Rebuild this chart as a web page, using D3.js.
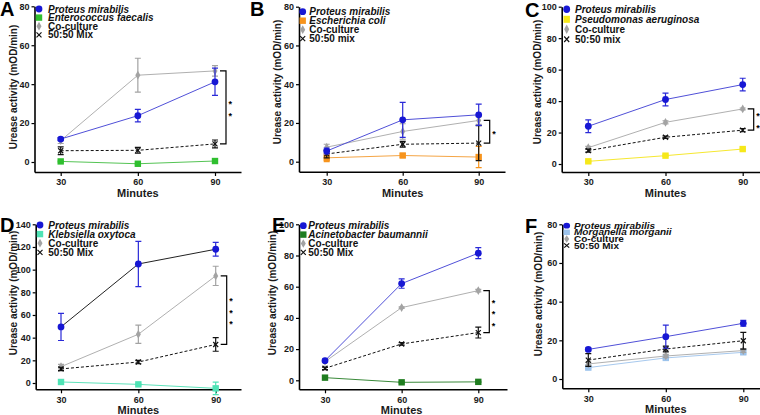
<!DOCTYPE html>
<html><head><meta charset="utf-8">
<script src="https://cdn.jsdelivr.net/npm/d3@7"></script>
<style>
body{margin:0;background:#fff;}
svg{display:block;font-family:"Liberation Sans",Arial,sans-serif;}
</style></head>
<body><svg id="c" width="760" height="415"></svg>
<script>
// ---------- DATA ----------
const minutes = [30, 60, 90];

// Panel A
const aProteus = [11.8, 23.8, 41.2], aProteusErr = [0.8, 3.2, 7];
const aSpecies = [0.3, -0.9, 0.5], aSpeciesErr = [0.2, 0.2, 0.2];
const aCoculture = [11, 44.6, 46.8], aCocultureErr = [1.5, 8.7, 2.7];
const aMix = [5.8, 6, 9.3], aMixErr = [2, 1.5, 2];
// Panel B
const bProteus = [5.5, 21.6, 24.2], bProteusErr = [1.5, 9, 5.5];
const bSpecies = [2, 3.2, 2.4], bSpeciesErr = [2, 0.8, 5.5];
const bCoculture = [7.5, 15.6, 21.3], bCocultureErr = [1.5, 4, 2];
const bMix = [4, 9, 9.6], bMixErr = [2, 1.5, 9];
// Panel C
const cProteus = [24, 41, 50.5], cProteusErr = [4, 4, 4];
const cSpecies = [1.7, 5.3, 9.5], cSpeciesErr = [0.5, 0.5, 0.5];
const cCoculture = [10.4, 26.5, 35], cCocultureErr = [0.8, 1, 0.6];
const cMix = [8.5, 17, 21.5], cMixErr = [1, 0.8, 1];
// Panel D
const dProteus = [49.5, 105, 118], dProteusErr = [12, 20, 6];
const dSpecies = [0.9, -1.2, -4.7], dSpeciesErr = [0.5, 0.5, 5.5];
const dCoculture = [14.4, 43, 94.5], dCocultureErr = [2, 8, 8.5];
const dMix = [12.4, 18.5, 34], dMixErr = [1.5, 1.5, 6];
// Panel E
const eProteus = [12.6, 62, 81.5], eProteusErr = [0.8, 3, 3.5];
const eSpecies = [1.7, -1.3, -1], eSpeciesErr = [0.3, 0.3, 0.3];
const eCoculture = [12, 46.6, 57.5], eCocultureErr = [0.5, 0.5, 0.8];
const eMix = [7.7, 23.3, 30.6], eMixErr = [0.8, 0.8, 3.5];
// Panel F
const fProteus = [15.3, 21.9, 28.8], fProteusErr = [0.8, 6, 1.5];
const fSpecies = [5.9, 10.9, 13.8], fSpeciesErr = [0.5, 0.5, 0.8];
const fCoculture = [7.8, 11.9, 14.7], fCocultureErr = [0.8, 0.8, 1];
const fMix = [9.8, 15.5, 19.8], fMixErr = [3.3, 1.5, 4.3];

const letters = ["A", "B", "C", "D", "E", "F"];
const speciesNames = ["Enterococcus faecalis", "Escherichia coli", "Pseudomonas aeruginosa",
  "Klebsiella oxytoca", "Acinetobacter baumannii", "Morganella morganii"];
const mixLabels = ["50:50 Mix", "50:50 mix", "50:50 mix", "50:50 Mix", "50:50 Mix", "50:50 Mix"];
const starCounts = [2, 1, 2, 3, 3, 0];
const yTickSets = [[0,20,40,60,80],[0,20,40,60,80],[0,20,40,60,80,100],
  [0,20,40,60,80,100,120,140],[0,20,40,60,80,100],[0,20,40,60,80]];
const yMaxes = [80, 80, 100, 140, 100, 80];

// ---------- LAYOUT / STYLE ----------
const panelData = [
  [aProteus, aProteusErr, aSpecies, aSpeciesErr, aCoculture, aCocultureErr, aMix, aMixErr],
  [bProteus, bProteusErr, bSpecies, bSpeciesErr, bCoculture, bCocultureErr, bMix, bMixErr],
  [cProteus, cProteusErr, cSpecies, cSpeciesErr, cCoculture, cCocultureErr, cMix, cMixErr],
  [dProteus, dProteusErr, dSpecies, dSpeciesErr, dCoculture, dCocultureErr, dMix, dMixErr],
  [eProteus, eProteusErr, eSpecies, eSpeciesErr, eCoculture, eCocultureErr, eMix, eMixErr],
  [fProteus, fProteusErr, fSpecies, fSpeciesErr, fCoculture, fCocultureErr, fMix, fMixErr]
];
const layout = [
  {xL:34.5, x30:60.7, x90:215, xR:241, top:6.3, zero:162, ax:172, letter:[0,16], ylab:[13.3,87],
   leg:{mx:39, tx:48, y0:9, gap:8.6, sy:1}, spColor:"#2fbf2f", spLine:"#55c455", pLine:"#5050d8"},
  {xL:299, x30:326.7, x90:478.7, xR:505, top:6.7, zero:161.7, ax:171.7, letter:[250,16], ylab:[277.7,82],
   leg:{mx:302.7, tx:309.3, y0:11.7, gap:9, sy:1}, spColor:"#f7941d", spLine:"#f5a545", pLine:"#5050d8"},
  {xL:561.7, x30:588.3, x90:742.7, xR:772, top:6.7, zero:164, ax:172, letter:[525,17], ylab:[537.7,82],
   leg:{mx:566.7, tx:575, y0:9.3, gap:9.1, sy:1.1}, spColor:"#f6e81a", spLine:"#f6e830", pLine:"#5050d8"},
  {xL:35.7, x30:61, x90:215.7, xR:241, top:224.3, zero:383, ax:389.3, letter:[0,232], ylab:[13.3,293],
   leg:{mx:40, tx:48.3, y0:225, gap:9.1, sy:1}, spColor:"#4fe3b5", spLine:"#5fe3bb", pLine:"#222222"},
  {xL:299, x30:325, x90:478.3, xR:507, top:224.3, zero:380.3, ax:389.3, letter:[272,232], ylab:[272.7,293],
   leg:{mx:303.3, tx:308.3, y0:225.7, gap:8.9, sy:1}, spColor:"#1f7d1f", spLine:"#3a8a3a", pLine:"#5050d8"},
  {xL:562.3, x30:588.3, x90:743.3, xR:772, top:224.3, zero:379, ax:388.3, letter:[525,233], ylab:[538,294],
   leg:{mx:566.7, tx:574, y0:225.7, gap:7.8, sy:0.85}, spColor:"#9cc3ec", spLine:"#a7c9ee", pLine:"#5050d8"}
];
const BLUE = "#1717d4", GRAY = "#a3a3a3", GRAYLINE = "#b0b0b0", BLACK = "#111";

const svg = d3.select("#c");

function marker(g, kind, cx, cy, color) {
  if (kind === "circle") {
    g.append("circle").attr("cx", cx).attr("cy", cy).attr("r", 3.4).attr("fill", color);
  } else if (kind === "square") {
    g.append("rect").attr("x", cx - 3.2).attr("y", cy - 3.2).attr("width", 6.4).attr("height", 6.4).attr("fill", color);
  } else if (kind === "diamond") {
    g.append("path").attr("transform", `translate(${cx},${cy})`)
      .attr("d", d3.symbol().type(d3.symbolDiamond).size(22)()).attr("fill", color);
  } else if (kind === "cross") {
    g.append("path").attr("d", `M${cx-2.5},${cy-2.5}L${cx+2.5},${cy+2.5}M${cx-2.5},${cy+2.5}L${cx+2.5},${cy-2.5}`)
      .attr("stroke", color).attr("stroke-width", 1.2).attr("fill", "none");
  }
}

panelData.forEach((pd, i) => {
  const L = layout[i];
  const yMax = yMaxes[i];
  const pxPerUnit = (L.zero - L.top) / yMax;
  const yMin = -(L.ax - L.zero) / pxPerUnit;
  const y = d3.scaleLinear().domain([yMin, yMax]).range([L.ax, L.top]);
  const x0 = d3.scaleLinear().domain([30, 90]).range([L.x30, L.x90]);
  const x = d3.scaleLinear().domain([x0.invert(L.xL), x0.invert(L.xR)]).range([L.xL, L.xR]);
  const g = svg.append("g");

  // axes
  const ya = g.append("g").attr("transform", `translate(${L.xL},0)`)
    .call(d3.axisLeft(y).tickValues(yTickSets[i]).tickSize(3).tickPadding(2).tickSizeOuter(0));
  const xa = g.append("g").attr("transform", `translate(0,${L.ax})`)
    .call(d3.axisBottom(x).tickValues(minutes).tickSize(4).tickPadding(3).tickSizeOuter(0));
  [ya, xa].forEach(a => {
    a.select(".domain").attr("stroke", "#000").attr("stroke-width", 1.6);
    a.selectAll(".tick line").attr("stroke", "#000").attr("stroke-width", 1.2);
    a.selectAll(".tick text").attr("fill", "#1a1a1a").attr("font-size", 9).attr("font-weight", "bold")
      .attr("font-family", "Liberation Sans, Arial, sans-serif");
  });

  // axis titles
  g.append("text").attr("x", (x(30) + x(90)) / 2).attr("y", L.ax + 24.8).attr("text-anchor", "middle")
    .attr("font-size", 11).attr("font-weight", "bold").attr("fill", "#1a1a1a").text("Minutes");
  g.append("text").attr("transform", `translate(${L.ylab[0] + 3.6},${L.ylab[1]}) rotate(-90)`)
    .attr("text-anchor", "middle").attr("font-size", 10).attr("font-weight", "bold").attr("fill", "#1a1a1a")
    .text("Urease activity (mOD/min)");
  g.append("text").attr("x", L.letter[0]).attr("y", L.letter[1]).attr("font-size", 20)
    .attr("font-weight", "bold").attr("fill", "#000").text(letters[i]);

  const [pv, pe, sv, se, cv, ce, mv, me] = pd;
  const series = [
    {v: sv, e: se, line: L.spLine, col: L.spColor, kind: "square", dash: null},
    {v: cv, e: ce, line: GRAYLINE, col: GRAY, kind: "diamond", dash: null},
    {v: mv, e: me, line: BLACK, col: BLACK, kind: "cross", dash: "3,2"},
    {v: pv, e: pe, line: L.pLine, col: BLUE, kind: "circle", dash: null}
  ];
  const lineGen = d3.line().x((d, k) => x(minutes[k])).y(d => y(d));
  series.forEach(s => {
    g.append("path").attr("d", lineGen(s.v)).attr("fill", "none").attr("stroke", s.line)
      .attr("stroke-width", 1).attr("stroke-dasharray", s.dash);
    s.v.forEach((v, k) => {
      const cx = x(minutes[k]), e = s.e[k];
      const ecol = s.kind === "circle" ? "#2a2ad8" : s.col;
      g.append("path").attr("d",
        `M${cx},${y(v + e)}V${y(v - e)}M${cx - 3},${y(v + e)}H${cx + 3}M${cx - 3},${y(v - e)}H${cx + 3}`)
        .attr("stroke", ecol).attr("stroke-width", 1.2).attr("fill", "none");
      marker(g, s.kind, cx, y(v), s.col);
    });
  });

  // significance bracket
  if (starCounts[i] > 0) {
    const bx = x(90) + 11;
    const y1 = y(cv[2]), y2 = y(mv[2]);
    g.append("path").attr("d", `M${bx - 6},${y1}H${bx}V${y2}H${bx - 6}`)
      .attr("stroke", "#000").attr("stroke-width", 1.2).attr("fill", "none");
    const mid = (y1 + y2) / 2, n = starCounts[i];
    d3.range(n).forEach(k => {
      const sy = mid + (k - (n - 1) / 2) * 11.5;
      g.append("text").attr("x", bx + 2.5).attr("y", sy + 5.5).attr("font-size", 9)
        .attr("font-weight", "bold").attr("fill", "#000").text("*");
    });
  }

  // legend
  const lg = g.append("g").attr("transform", `translate(0,${L.leg.y0}) scale(1,${L.leg.sy})`);
  const items = [
    {t: "Proteus mirabilis", it: true, kind: "circle", col: BLUE},
    {t: speciesNames[i], it: true, kind: "square", col: L.spColor},
    {t: "Co-culture", it: false, kind: "diamond", col: GRAY},
    {t: mixLabels[i], it: false, kind: "cross", col: BLACK}
  ];
  items.forEach((it, k) => {
    const yy = k * L.leg.gap;
    marker(lg, it.kind, L.leg.mx, yy, it.col);
    lg.append("text").attr("x", L.leg.tx).attr("y", yy + 3.6).attr("font-size", 10)
      .attr("font-weight", "bold").attr("font-style", it.it ? "italic" : "normal")
      .attr("fill", "#111").text(it.t);
  });
});
</script></body></html>
